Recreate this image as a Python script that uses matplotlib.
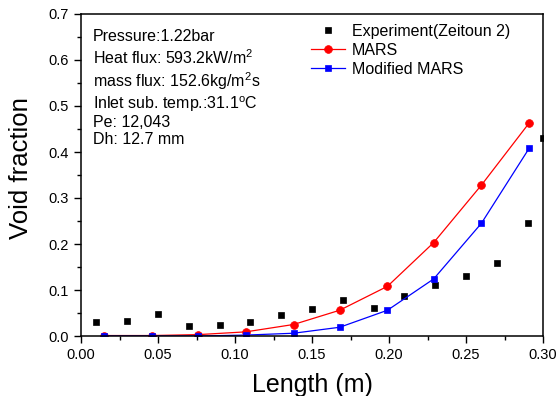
import matplotlib
matplotlib.use('Agg')
import matplotlib.pyplot as plt
from matplotlib.ticker import MultipleLocator, FormatStrFormatter

# experimental void fraction along the heated length
exp_length = [0.01, 0.03, 0.05, 0.07, 0.09, 0.11, 0.13, 0.15, 0.17, 0.19,
              0.21, 0.23, 0.25, 0.27, 0.29, 0.30]
exp_void = [0.030, 0.032, 0.048, 0.022, 0.025, 0.030, 0.045, 0.059, 0.078, 0.060,
            0.087, 0.111, 0.130, 0.158, 0.246, 0.430]

# code predictions at the node positions
node_length = [0.015, 0.046, 0.076, 0.107, 0.138, 0.168, 0.199, 0.229, 0.260, 0.291]
mars_void = [0.001, 0.001, 0.003, 0.009, 0.025, 0.056, 0.108, 0.203, 0.328, 0.463]
mod_mars_void = [0.000, 0.000, 0.000, 0.002, 0.006, 0.019, 0.056, 0.124, 0.245, 0.408]

conditions = [
    'Pressure:1.22bar',
    'Heat flux: 593.2kW/m$^2$',
    'mass flux: 152.6kg/m$^2$s',
    'Inlet sub. temp.:31.1$^{\\mathrm{o}}$C',
    'Pe: 12,043',
    'Dh: 12.7 mm',
]

plt.rcParams['font.family'] = ['Liberation Sans', 'DejaVu Sans']
plt.rcParams['mathtext.fontset'] = 'custom'
plt.rcParams['mathtext.rm'] = 'Liberation Sans'
plt.rcParams['mathtext.it'] = 'Liberation Sans:italic'

W, H = 558, 396
fig = plt.figure(figsize=(W / 100, H / 100), dpi=100)
ax = fig.add_axes([81 / W, 1 - 336 / H, (543 - 81) / W, (336 - 14) / H])

ax.plot(exp_length, exp_void, 's', color='black', ms=5.0, mew=0.5,
        label='Experiment(Zeitoun 2)')
ax.plot(node_length, mars_void, '-o', color='red', lw=0.9, ms=5.6, mew=0.5,
        label='MARS')
ax.plot(node_length, mod_mars_void, '-s', color='blue', lw=0.9, ms=4.9, mew=0.5,
        label='Modified MARS')

ax.set_xlim(0, 0.30)
ax.set_ylim(0, 0.7)
ax.xaxis.set_major_locator(MultipleLocator(0.05))
ax.xaxis.set_minor_locator(MultipleLocator(0.025))
ax.yaxis.set_major_locator(MultipleLocator(0.1))
ax.yaxis.set_minor_locator(MultipleLocator(0.05))
ax.xaxis.set_major_formatter(FormatStrFormatter('%.2f'))
ax.yaxis.set_major_formatter(FormatStrFormatter('%.1f'))
ax.tick_params(which='major', direction='out', length=5, width=1, labelsize=10.5)
ax.tick_params(which='minor', direction='out', length=3, width=1)
for sp in ax.spines.values():
    sp.set_linewidth(1.1)

ax.set_xlabel('Length (m)', fontsize=18, labelpad=8)
ax.set_ylabel('Void fraction', fontsize=18.5)
ax.yaxis.set_label_coords((33 - 81) / 462, (336 - 168) / 322)

# run conditions listed in the upper-left corner
baselines = [41, 64, 87, 109, 127, 144]
for txt, yb in zip(conditions, baselines):
    fig.text(93 / W, 1 - yb / H, txt, fontsize=11.5, va='baseline', ha='left')

ax.legend(loc='upper left', bbox_to_anchor=(311 / W, 1 - 24 / H),
          bbox_transform=fig.transFigure, frameon=False, fontsize=11.5,
          borderpad=0, borderaxespad=0, handlelength=2.1, handletextpad=0.45,
          labelspacing=0.25)

fig.savefig('out.png', dpi=100)
